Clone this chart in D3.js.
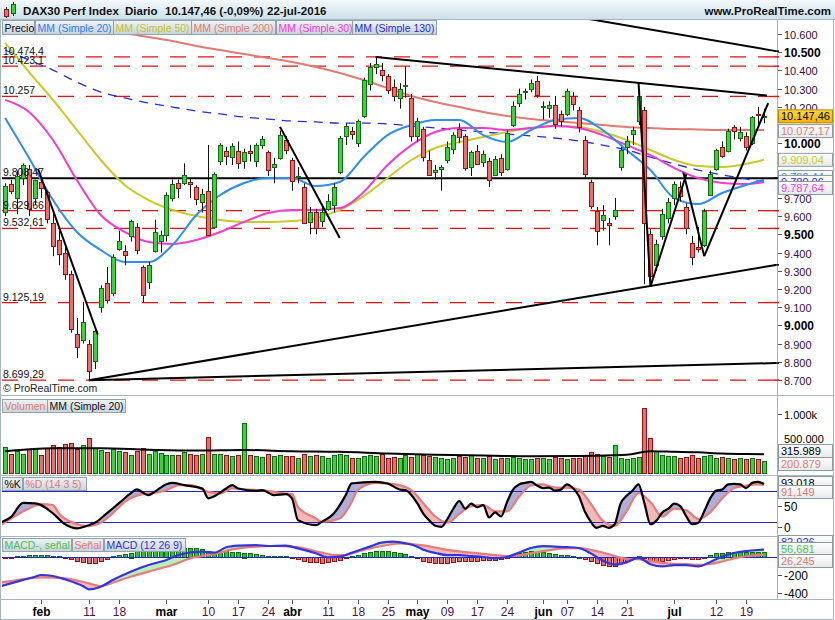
<!DOCTYPE html>
<html><head><meta charset="utf-8">
<script src="https://cdn.jsdelivr.net/npm/d3@7/dist/d3.min.js"></script>
<style>body{margin:0;background:#fff;} svg{display:block;font-family:"Liberation Sans",Arial,sans-serif;}</style>
</head><body><svg id="c" width="835" height="620"></svg>
<script>
// ---------------- DATA ----------------
const dates = ["01-22","01-25","01-26","01-27","01-28","01-29",
"02-01","02-02","02-03","02-04","02-05","02-08","02-09","02-10","02-11","02-12","02-15","02-16","02-17","02-18","02-19","02-22","02-23","02-24","02-25","02-26","02-29",
"03-01","03-02","03-03","03-04","03-07","03-08","03-09","03-10","03-11","03-14","03-15","03-16","03-17","03-18","03-21","03-22","03-23","03-24","03-29","03-30","03-31",
"04-01","04-04","04-05","04-06","04-07","04-08","04-11","04-12","04-13","04-14","04-15","04-18","04-19","04-20","04-21","04-22","04-25","04-26","04-27","04-28","04-29",
"05-02","05-03","05-04","05-05","05-06","05-09","05-10","05-11","05-12","05-13","05-17","05-18","05-19","05-20","05-23","05-24","05-25","05-26","05-27","05-30","05-31",
"06-01","06-02","06-03","06-06","06-07","06-08","06-09","06-10","06-13","06-14","06-15","06-16","06-17","06-20","06-21","06-22","06-23","06-24","06-27","06-28","06-29","06-30",
"07-01","07-04","07-05","07-06","07-07","07-08","07-11","07-12","07-13","07-14","07-15","07-18","07-19","07-20","07-21","07-22"];

const opens = [9620,9775,9700,9810,9860,9700,
9790,9730,9560,9470,9400,9280,8950,8920,8900,8800,9100,9230,9180,9420,9410,9490,9540,9320,9240,9410,9460,
9500,9700,9780,9780,9790,9760,9680,9740,9540,9900,9960,9920,9960,9900,9960,9900,9990,9950,9870,9920,10020,
9910,9820,9760,9570,9620,9570,9640,9660,9840,10040,10070,10000,10150,10330,10420,10400,10370,10310,10250,10320,10250,
10040,10080,9910,9840,9860,9910,9970,10080,10040,9870,9960,9900,9900,9830,9920,9860,10100,10220,10280,10300,10340,
10200,10190,10210,10160,10160,10260,10180,10020,9790,9630,9580,9560,9600,9870,9980,10050,10120,10180,9500,9330,9490,9590,
9700,9760,9650,9450,9430,9440,9720,9860,9980,9960,10090,10030,10040,10000,10160,10140];
const highs = [9780,9800,9850,9890,9880,9800,
9810,9740,9620,9520,9430,9300,9040,9130,8920,8990,9220,9320,9390,9520,9440,9580,9560,9330,9350,9580,9520,
9730,9800,9800,9890,9810,9770,9750,9990,9840,10000,9980,10000,10010,9970,9990,10000,10040,9960,9920,10070,10040,
9920,9870,9780,9650,9640,9660,9720,9780,10040,10110,10090,10130,10360,10440,10474,10440,10380,10350,10330,10423,10270,
10140,10090,9960,9880,9880,10010,10060,10110,10050,9960,9990,9960,9920,9930,9940,10070,10230,10300,10300,10350,10370,
10230,10230,10260,10180,10300,10280,10200,10040,9800,9650,9660,9590,9700,9980,10040,10090,10270,10200,9530,9470,9640,9700,
9790,9790,9670,9490,9540,9640,9850,9970,10010,10080,10100,10090,10060,10150,10200,10190];
const lows = [9600,9720,9610,9770,9600,9660,
9700,9560,9380,9330,9250,8960,8820,8900,8699,8760,9070,9120,9160,9410,9330,9460,9390,9125,9200,9400,9400,
9460,9680,9700,9770,9700,9660,9620,9490,9530,9880,9880,9880,9860,9860,9900,9870,9970,9820,9780,9910,9940,
9740,9780,9560,9500,9500,9540,9630,9620,9830,9990,10020,9980,10140,10290,10380,10340,10270,10230,10190,10250,10010,
10010,9900,9820,9800,9740,9890,9940,10000,9850,9820,9880,9870,9760,9820,9820,9850,10090,10200,10240,10280,10250,
10130,10140,10080,10090,10150,10180,10060,9810,9640,9440,9520,9440,9580,9850,9940,9990,10100,9226,9214,9300,9470,9560,
9660,9680,9500,9330,9400,9430,9710,9850,9920,9950,10020,10010,9960,9990,10100,10110];
const closes = [9764,9736,9822,9880,9639,9798,
9757,9581,9434,9393,9286,8979,8879,9017,8752,8967,9206,9135,9377,9463,9388,9573,9416,9167,9331,9513,9495,
9717,9776,9751,9824,9778,9692,9723,9498,9831,9990,9933,9983,9892,9950,9948,9990,10022,9851,9887,10046,9966,
9794,9822,9564,9624,9530,9622,9682,9761,10027,10093,10051,10120,10350,10421,10435,10373,10294,10259,10299,10321,10039,
10123,9926,9829,9851,9869,9980,10045,10035,9862,9952,9890,9943,9795,9916,9842,10057,10205,10272,10287,10333,10263,
10204,10208,10103,10121,10288,10217,10088,9834,9657,9519,9606,9550,9631,9962,10015,10071,10257,9557,9268,9447,9612,9680,
9776,9709,9532,9373,9418,9629,9833,9964,9930,10068,10066,10063,9982,10142,10156,10147.46];
const volumes = [440,320,380,320,400,400,
305,420,475,445,490,515,405,475,600,430,390,350,400,380,360,300,380,420,330,380,340,
300,310,300,360,320,300,330,610,330,320,300,290,310,850,300,280,270,330,290,300,280,
280,260,320,290,300,280,260,300,330,310,260,250,280,300,280,320,250,270,260,300,270,
330,300,280,270,250,240,260,280,270,300,250,260,280,240,260,250,270,260,240,230,250,
260,240,270,250,240,250,260,300,350,320,290,270,480,260,240,250,270,1100,600,380,300,280,
290,260,270,300,260,280,300,260,270,250,240,260,230,250,240,200.879];

// moving averages (read at sample candles)
const maIdx   = [0,4,8,12,16,20,24,28,32,36,40,44,48,52,56,60,64,68,72,76,80,84,88,92,96,100,104,108,112,116,120,124,127];
const sma20  = [10139,9919,9688,9513,9414,9348,9348,9441,9606,9716,9782,9809,9809,9765,9787,9925,10045,10100,10128,10128,10045,10007,10073,10128,10139,10073,9963,9853,9699,9666,9727,9771,9799.44];
const sma50  = [10551,10391,10238,10073,9908,9771,9688,9634,9601,9579,9568,9568,9573,9590,9634,9710,9809,9908,9974,10007,10034,10062,10084,10095,10089,10062,10018,9963,9908,9875,9870,9886,9909.04];
const sma30  = [10238,10172,10018,9798,9606,9513,9458,9447,9469,9513,9568,9617,9634,9634,9644,9732,9881,9990,10062,10084,10084,10073,10084,10095,10084,10045,9990,9935,9864,9809,9782,9776,9787.64];
const sma130 = [10512,10457,10402,10336,10281,10249,10221,10199,10177,10161,10144,10133,10122,10117,10111,10111,10106,10095,10084,10073,10062,10051,10040,10029,10012,9990,9963,9924,9886,9853,9826,9804,9789.06];
const sma200Idx = [16,20,24,28,32,36,40,44,48,52,56,60,64,68,72,76,80,84,88,92,96,100,104,108,112,116,120,124,127];
const sma200 = [10640,10605,10584,10562,10534,10512,10490,10468,10446,10419,10386,10347,10303,10260,10227,10199,10172,10150,10133,10122,10111,10100,10089,10084,10078,10076,10073,10073,10072.17];
const volMaIdx = [0,8,16,24,32,40,48,56,64,72,80,88,96,104,108,112,116,120,124,127];
const volMa    = [370,420,420,395,380,390,370,360,330,310,295,285,290,310,370,360,350,330,320,315.989];

// stochastic %K / %D (14 3 5)
const stochKIdx = [-1,1,3,5,6,8,10,12,14,15,17,19,21,22,24,25,27,28,30,33,34,35,37,38,39,42,43,45,47,48,49,52,53,55,57,58,59,62,64,66,67,69,
70,71,72,73,74,75,76,77,78,79,80,81,82,83,84,85,86,87,88,89,90,91,92,93,94,95,96,97,98,99,100,101,102,103,104,105,106,107,108,109,110,111,112,113,114,115,116,117,118,119,120,121,122,123,124,125,126,127];
const stochK = [17.7,29.3,56.4,55.2,52,35.9,15.2,6.9,13.2,17.7,35.9,55.2,74.6,82.3,71.3,77.7,92.5,95,90.6,84.2,64.9,69.3,84.2,90.6,84.2,79.6,81,71.3,73.2,64.9,22.9,13.2,19.6,35.9,71.3,93.9,95,97,93.9,82.3,81,55.2,
35,22,12,10,25,45,60,45,55,48,52,28,38,30,58,82,92,95,97,90,85,86,80,82,92,85,70,40,20,8,12,8,15,55,70,80,92,55,15,22,38,45,55,50,30,15,18,40,65,80,82,92,93,92,85,95,97,93.018];
const stochDIdx = [-1,1,4,6,8,9,11,14,16,18,20,23,25,27,29,31,34,36,38,40,43,46,48,49,52,53,56,58,59,62,64,66,68,
70,72,74,76,78,80,82,84,86,88,90,92,94,96,98,100,102,104,106,108,110,112,114,116,118,120,122,124,126,127];
const stochD = [11.3,26.2,45.5,53.9,51.9,35.9,19.6,11.3,17.7,35.9,58.3,73.2,75.7,81,90.6,90.6,77.7,74.6,84.2,82.3,81,75.7,73.2,48.7,26.2,19.6,26.2,58.3,81,95,93.9,90.6,81,
55,30,18,35,50,52,40,40,68,90,92,86,86,82,55,22,12,40,75,58,30,45,42,25,38,65,85,90,92,91.149];
const stochLevels = [80,20];

// MACD (12 26 9)
const macdIdx = [-1,2,5,6,8,10,13,14,16,18,21,24,27,29,33,35,37,39,42,44,47,49,52,54,56,58,61,63,65,67,69,
70,72,74,76,78,80,82,84,86,88,90,92,94,96,98,100,102,104,106,108,110,112,114,116,118,120,122,124,126,127];
const macdLine = [-330,-274,-219,-200,-211,-248,-322,-359,-330,-256,-163,-89,-33,22,59,48,108,126,133,122,126,96,41,-4,4,48,115,159,170,152,115,
80,45,20,20,10,0,-15,0,50,100,120,115,110,100,40,-40,-85,-60,-10,-80,-105,-90,-90,-105,-55,5,45,65,78,82.926];
const signalIdx = [-1,2,6,10,14,16,18,21,25,28,31,35,38,42,45,48,50,53,55,57,59,62,64,66,68,
70,72,74,76,78,80,82,84,86,88,90,92,94,96,98,100,102,104,106,108,110,112,114,116,118,120,122,124,126,127];
const signalLine = [-285,-256,-226,-237,-293,-322,-285,-219,-144,-89,-15,33,85,115,122,115,96,48,22,22,59,108,133,152,144,
130,105,80,62,48,35,20,10,18,40,65,85,95,98,80,50,10,-20,-25,-45,-65,-75,-80,-88,-78,-50,-15,8,20,26.245];
const macdHist = [-10,-4,8,15,22,25,25,20,14,6,
-12,-25,-40,-55,-65,-62,-45,-20,8,20,
35,50,62,70,78,85,90,95,98,100,
100,98,95,88,62,55,60,65,60,55,
50,40,30,24,16,12,12,8,-10,-25,
-40,-52,-60,-62,-55,-45,-30,-12,8,25,
40,55,65,72,70,60,45,30,15,-10,
-45,-58,-65,-70,-68,-60,-48,-42,-45,-44,
-38,-35,-35,-25,-8,15,40,55,62,60,
55,45,32,22,18,12,3,-22,-45,-65,
-88,-95,-95,-70,-40,-12,15,-15,-40,-45,
-40,-28,-18,-12,-10,-18,-20,-8,20,40,
50,55,58,60,58,57,57,56.681];

// support / resistance levels (red dashed) and their labels
const levelValues = [10474.4,10423.1,10257,9629.66,9532.61,9125.19,8699.29];
const levelLabels = ["10.474,4","10.423,1","10.257","9.629,66","9.532,61","9.125,19","8.699,29"];
const hLineValue = 9808.47, hLineLabel = "9.808,47";
// trend lines [idx1, value1, idx2, value2]
const trendLines = [[62,10474,127.5,10262],[90,10726,129,10506],[14,8699,129,8793],[14,8699,129,9332],
[5.5,9860,15.5,8950],[46,10090,56,9480],[106,10336,108,9214],[108,9214,114,9830],[113.5,9840,117,9380],[117,9380,127.7,10220]];

const priceTicks = [8700,8800,8900,9000,9100,9200,9300,9400,9500,9600,9700,9800,9900,10000,10100,10200,10300,10400,10500,10600];
const priceTicksCovered = [9800,9900,10100]; // hidden behind value boxes
const xTickDates = ["02-01","02-11","02-18","03-01","03-10","03-17","03-24","04-01","04-11","04-18","04-25","05-02","05-09","05-17","05-24","06-01","06-07","06-14","06-21","07-01","07-12","07-19"];
const xTickLabels = ["feb","11","18","mar","10","17","24","abr","11","18","25","may","09","17","24","jun","07","14","21","jul","12","19"];

// ---------------- DRAW ----------------
const svg = d3.select("#c");
const defs = svg.append("defs");
function lg(id,c1,c2){const g=defs.append("linearGradient").attr("id",id).attr("x1",0).attr("y1",0).attr("x2",0).attr("y2",1);
 g.append("stop").attr("offset","0%").attr("stop-color",c1); g.append("stop").attr("offset","100%").attr("stop-color",c2);}
lg("hdr","#f4f9fc","#cde0ea"); lg("leg","#eef3f6","#c7d3da"); lg("box","#ffffff","#e6e9eb"); lg("gold","#ffd64a","#f2b100");
function clip(id,x,y,w,h){defs.append("clipPath").attr("id",id).append("rect").attr("x",x).attr("y",y).attr("width",w).attr("height",h);}
clip("cMain",2,20,775,375); clip("cVol",2,397,775,78); clip("cSto",2,477,775,59); clip("cMacd",2,538,775,61);

const loc = d3.formatLocale({decimal:",",thousands:".",grouping:[3],currency:["","€"]});
const fInt = loc.format(",d");

const N = dates.length;
const x = d3.scaleLinear().domain([0,N-1]).range([5.15,764]);
const yP = d3.scaleLinear().domain([8700,10600]).range([380,34]);
const yV = d3.scaleLinear().domain([0,1000]).range([473,414]);
const yS = d3.scaleLinear().domain([0,100]).range([532,480.3]);
const yM = d3.scaleLinear().domain([-400,0]).range([593,557]);

const UP_F="#3fd03f", UP_S="#136b13", DN_F="#e96e6e", DN_S="#8a1616";
const isUp = i => closes[i] >= opens[i];

// header
svg.append("rect").attr("x",0).attr("y",0).attr("width",835).attr("height",19).attr("fill","url(#hdr)");
svg.append("line").attr("x1",0).attr("x2",835).attr("y1",19.5).attr("y2",19.5).attr("stroke","#9fb0bb");
svg.append("line").attr("x1",6.5).attr("x2",6.5).attr("y1",7).attr("y2",18).attr("stroke","#222");
svg.append("rect").attr("x",4.5).attr("y",9.5).attr("width",4).attr("height",7).attr("fill",DN_F).attr("stroke",DN_S);
svg.append("line").attr("x1",13.5).attr("x2",13.5).attr("y1",2).attr("y2",16).attr("stroke","#222");
svg.append("rect").attr("x",11.5).attr("y",4.5).attr("width",4).attr("height",9).attr("fill",UP_F).attr("stroke",UP_S);
const hdr = svg.append("g").attr("font-size","11.5px").attr("font-weight","bold").attr("fill","#111");
hdr.append("text").attr("x",23).attr("y",15).text("DAX30 Perf Index");
hdr.append("text").attr("x",125).attr("y",15).text("Diario");
hdr.append("text").attr("x",165).attr("y",15).text("10.147,46 (-0,09%)");
hdr.append("text").attr("x",267).attr("y",15).text("22-jul-2016");
hdr.append("text").attr("x",831).attr("y",15).attr("text-anchor","end").text("www.ProRealTime.com");

// frames
const fr = svg.append("g").attr("stroke","#a9b5bd").attr("fill","none");
fr.append("rect").attr("x",0.5).attr("y",19.5).attr("width",833).attr("height",600);
fr.append("line").attr("x1",777.5).attr("x2",777.5).attr("y1",20).attr("y2",600);
[395.5,475.5,536.5,599.5].forEach(yy=>fr.append("line").attr("x1",0).attr("x2",834).attr("y1",yy).attr("y2",yy));

// ---- main panel ----
const gm = svg.append("g").attr("clip-path","url(#cMain)");
levelValues.forEach(v=>gm.append("line").attr("x1",2).attr("x2",777).attr("y1",yP(v)).attr("y2",yP(v))
  .attr("stroke","#e81010").attr("stroke-width",1.3).attr("stroke-dasharray","16,12"));
gm.append("line").attr("x1",2).attr("x2",777).attr("y1",yP(hLineValue)).attr("y2",yP(hLineValue)).attr("stroke","#000").attr("stroke-width",2);

function maPath(idx,vals,color,w,dash){
  const pts = idx.map((d,k)=>[d,vals[k]]);
  const p = gm.append("path").datum(pts).attr("fill","none").attr("stroke",color).attr("stroke-width",w)
   .attr("d",d3.line().x(d=>x(d[0])).y(d=>yP(d[1])).curve(d3.curveMonotoneX));
  if(dash) p.attr("stroke-dasharray",dash);
}
maPath(sma200Idx,sma200,"#e07a72",2);
maPath(maIdx,sma130,"#2b2bd0",1.3,"9,7");
maPath(maIdx,sma50,"#c9c92a",2);
maPath(maIdx,sma30,"#f03ccf",2);
maPath(maIdx,sma20,"#2f8cf0",2);

const cg = gm.append("g");
d3.range(N).forEach(i=>{
  const xc = Math.round(x(i))+0.5;
  cg.append("line").attr("x1",xc).attr("x2",xc).attr("y1",yP(highs[i])).attr("y2",yP(lows[i])).attr("stroke","#111");
  const top = yP(Math.max(opens[i],closes[i])), bot = yP(Math.min(opens[i],closes[i]));
  cg.append("rect").attr("x",xc-2).attr("y",Math.round(top)+0.5).attr("width",4).attr("height",Math.max(1,Math.round(bot-top)))
    .attr("fill",isUp(i)?UP_F:DN_F).attr("stroke",isUp(i)?UP_S:DN_S);
});
trendLines.forEach(t=>gm.append("line").attr("x1",x(t[0])).attr("y1",yP(t[1])).attr("x2",x(t[2])).attr("y2",yP(t[3]))
  .attr("stroke","#000").attr("stroke-width",2));
const ll = svg.append("g").attr("font-size","10.5px").attr("fill","#111");
levelValues.forEach((v,k)=>ll.append("text").attr("x",3).attr("y",yP(v)-2).text(levelLabels[k]));
ll.append("text").attr("x",3).attr("y",yP(hLineValue)-2).text(hLineLabel);
svg.append("text").attr("x",3).attr("y",392).attr("font-size","10.5px").attr("fill","#222").text("© ProRealTime.com");

function legend(items,y,h){
  items.forEach(it=>{
    svg.append("rect").attr("x",it[0]+0.5).attr("y",y+0.5).attr("width",it[1]).attr("height",h).attr("fill","url(#leg)").attr("stroke","#93a3ad");
    svg.append("text").attr("x",it[0]+2.5).attr("y",y+h-2.5).attr("font-size","10.5px").attr("fill",it[3]).text(it[2]);
  });
}
legend([[2,32,"Precio","#111"],[35,78,"MM (Simple 20)","#2f7cf0"],[113,78,"MM (Simple 50)","#c2c22a"],[191,84,"MM (Simple 200)","#e07a72"],[276,76,"MM (Simple 30)","#f03ccf"],[352,84,"MM (Simple 130)","#2b2bd0"]],20,14);

const ra = svg.append("g");
priceTicks.forEach(v=>{
  const yy = Math.round(yP(v))+0.5, major = v%500===0;
  ra.append("line").attr("x1",778).attr("x2",782).attr("y1",yy).attr("y2",yy).attr("stroke","#555");
  if(priceTicksCovered.indexOf(v)<0)
    ra.append("text").attr("x",784).attr("y",yy+4).attr("font-size",major?"12px":"11px").attr("fill",major?"#000":"#3a0c3a").attr("font-weight",major?"bold":"normal").text(fInt(v));
});
levelValues.forEach(v=>ra.append("line").attr("x1",774).attr("x2",779).attr("y1",yP(v)).attr("y2",yP(v)).attr("stroke","#e81010").attr("stroke-width",1.5));
[hLineValue,10506,8793,9332].forEach(v=>ra.append("line").attr("x1",774).attr("x2",779).attr("y1",yP(v)).attr("y2",yP(v)).attr("stroke","#000").attr("stroke-width",1.5));

function valBox(y,text,color,fill,border){
  svg.append("rect").attr("x",778.5).attr("y",y-6.5).attr("width",54).attr("height",13).attr("fill",fill||"url(#box)").attr("stroke",border||"#8e9aa2");
  svg.append("text").attr("x",781).attr("y",y+4).attr("font-size","11px").attr("fill",color).text(text);
}
valBox(yP(10147.46),"10.147,46","#000","url(#gold)","#b08a00");
valBox(yP(10072.17)+1,"10.072,17","#e07a72");
valBox(yP(9909.04),"9.909,04","#c9c92a");
valBox(177,"9.799,44","#2f8cf0");
valBox(182,"9.789,06","#2b2bd0");
valBox(188,"9.787,64","#f03ccf");

// ---- volume panel ----
const gv = svg.append("g").attr("clip-path","url(#cVol)");
d3.range(N).forEach(i=>{
  const xc = Math.round(x(i))+0.5;
  gv.append("rect").attr("x",xc-2).attr("y",Math.round(yV(volumes[i]))+0.5).attr("width",4).attr("height",Math.max(1,473-Math.round(yV(volumes[i]))))
   .attr("fill",isUp(i)?UP_F:DN_F).attr("stroke",isUp(i)?UP_S:DN_S);
});
gv.append("path").datum(volMaIdx.map((d,k)=>[d,volMa[k]])).attr("fill","none").attr("stroke","#000").attr("stroke-width",2)
  .attr("d",d3.line().x(d=>x(d[0])).y(d=>yV(d[1])).curve(d3.curveMonotoneX));
legend([[2,45,"Volumen","#e07a72"],[47,78,"MM (Simple 20)","#111"]],399,13);
[[1000,"1.000k"],[500,"500.000"]].forEach(t=>{
  const yy=Math.round(yV(t[0]))+0.5;
  svg.append("line").attr("x1",778).attr("x2",782).attr("y1",yy).attr("y2",yy).attr("stroke","#555");
  svg.append("text").attr("x",784).attr("y",yy+(t[0]===500?-2:4)).attr("font-size","11px").attr("fill","#000").text(t[1]);
});
valBox(451,"315.989","#000");
valBox(464,"200.879","#e07a72");

// ---- stochastic ----
const gs = svg.append("g").attr("clip-path","url(#cSto)");
const kPts = stochKIdx.map((d,k)=>[d,stochK[k]]), dPts = stochDIdx.map((d,k)=>[d,stochD[k]]);
const lineS = d3.line().x(d=>x(d[0])).y(d=>yS(d[1])).curve(d3.curveMonotoneX);
const areaS = (pts,base)=>d3.area().x(d=>x(d[0])).y0(base).y1(d=>yS(d[1])).curve(d3.curveMonotoneX)(pts);
defs.append("clipPath").attr("id","sAboveD").append("path").attr("d",areaS(dPts,470));
defs.append("clipPath").attr("id","sBelowD").append("path").attr("d",areaS(dPts,540));
gs.append("g").attr("clip-path","url(#sAboveD)").append("path").attr("d",areaS(kPts,540)).attr("fill","#aeaed8");
gs.append("g").attr("clip-path","url(#sBelowD)").append("path").attr("d",areaS(kPts,470)).attr("fill","#f3b9b9");
stochLevels.forEach(v=>gs.append("line").attr("x1",2).attr("x2",777).attr("y1",Math.round(yS(v))+0.5).attr("y2",Math.round(yS(v))+0.5).attr("stroke","#2323c8"));
gs.append("path").datum(dPts).attr("fill","none").attr("stroke","#e87c7c").attr("stroke-width",2.2).attr("d",lineS);
gs.append("path").datum(kPts).attr("fill","none").attr("stroke","#000").attr("stroke-width",2.2).attr("d",lineS);
legend([[2,20,"%K","#111"],[23,63,"%D (14 3 5)","#e07a72"]],477,13);
[[50,yS(50)],[0,527]].forEach(t=>{
  const yy=Math.round(t[1])+0.5;
  svg.append("line").attr("x1",778).attr("x2",782).attr("y1",yy).attr("y2",yy).attr("stroke","#555");
  svg.append("text").attr("x",784).attr("y",yy+4).attr("font-size","12px").attr("fill","#000").text(t[0]);
});
valBox(483,"93,018","#000");
valBox(492,"91,149","#e07a72");

// ---- MACD ----
const gmc = svg.append("g").attr("clip-path","url(#cMacd)");
const mPts = macdIdx.map((d,k)=>[d,macdLine[k]]), sPts = signalIdx.map((d,k)=>[d,signalLine[k]]);
const lineM = d3.line().x(d=>x(d[0])).y(d=>yM(d[1])).curve(d3.curveMonotoneX);
const areaM = (pts,base)=>d3.area().x(d=>x(d[0])).y0(base).y1(d=>yM(d[1])).curve(d3.curveMonotoneX)(pts);
defs.append("clipPath").attr("id","mAboveS").append("path").attr("d",areaM(sPts,530));
defs.append("clipPath").attr("id","mBelowS").append("path").attr("d",areaM(sPts,605));
gmc.append("g").attr("clip-path","url(#mAboveS)").append("path").attr("d",areaM(mPts,605)).attr("fill","#b9efb9");
gmc.append("g").attr("clip-path","url(#mBelowS)").append("path").attr("d",areaM(mPts,530)).attr("fill","#f3b9b9");
d3.range(N).forEach(i=>{
  const xc = Math.round(x(i))+0.5, h = macdHist[i];
  const y0 = yM(0), y1 = yM(h);
  gmc.append("rect").attr("x",xc-2).attr("y",Math.round(Math.min(y0,y1))+0.5).attr("width",4).attr("height",Math.max(1,Math.round(Math.abs(y1-y0))))
   .attr("fill",h>=0?"#2fc42f":DN_F).attr("stroke",h>=0?UP_S:DN_S);
});
gmc.append("line").attr("x1",2).attr("x2",777).attr("y1",Math.round(yM(0))+0.5).attr("y2",Math.round(yM(0))+0.5).attr("stroke","#2323c8");
gmc.append("path").datum(sPts).attr("fill","none").attr("stroke","#e87c7c").attr("stroke-width",2.2).attr("d",lineM);
gmc.append("path").datum(mPts).attr("fill","none").attr("stroke","#3434d8").attr("stroke-width",2.2).attr("d",lineM);
legend([[2,69,"MACD-, señal","#4cc04c"],[72,31,"Señal","#e07a72"],[104,81,"MACD (12 26 9)","#3434d8"]],538,13);
[-200,-400].forEach(v=>{
  const yy=Math.round(yM(v))+0.5;
  svg.append("line").attr("x1",778).attr("x2",782).attr("y1",yy).attr("y2",yy).attr("stroke","#555");
  svg.append("text").attr("x",784).attr("y",yy+4).attr("font-size","12px").attr("fill","#000").text(v);
});
valBox(542,"82,926","#3434d8");
valBox(549,"56,681","#4cc04c");
valBox(561,"26,245","#e07a72");

// ---- x axis ----
const xa = svg.append("g");
xTickDates.forEach((d,k)=>{
  const xx = Math.round(x(dates.indexOf(d)))+0.5;
  const month = isNaN(+xTickLabels[k]);
  xa.append("line").attr("x1",xx).attr("x2",xx).attr("y1",600).attr("y2",604).attr("stroke","#555");
  xa.append("text").attr("x",xx).attr("y",616).attr("text-anchor","middle").attr("font-size","12px")
    .attr("font-weight",month?"bold":"normal").attr("fill",month?"#000":"#4a1448").text(xTickLabels[k]);
});
</script></body></html>
